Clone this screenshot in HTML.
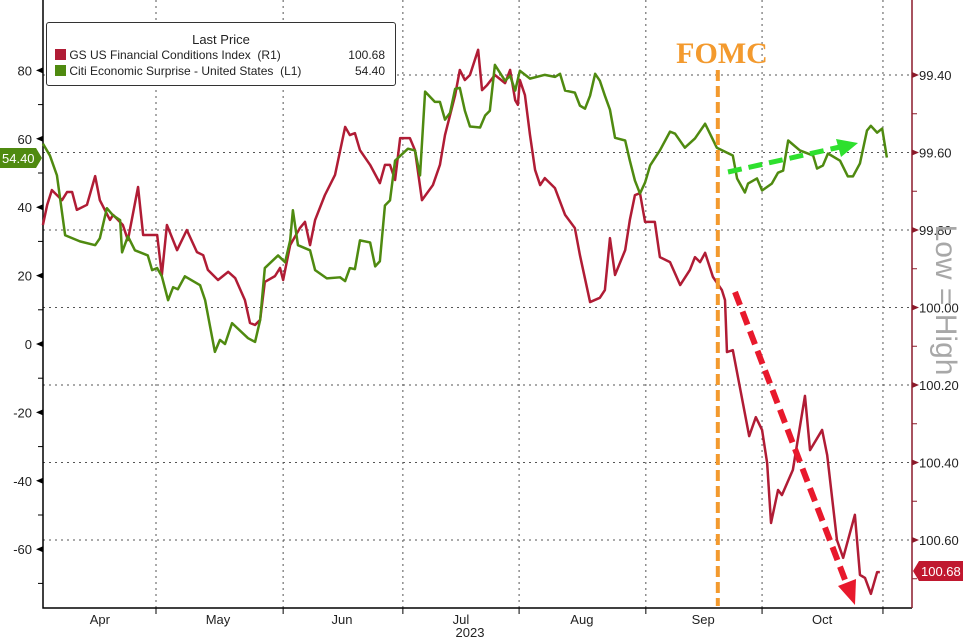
<!DOCTYPE html>
<html><head><meta charset="utf-8">
<style>
body{margin:0;background:#fff;}
svg{display:block;font-family:"Liberation Sans",Arial,sans-serif;}
</style></head>
<body>
<svg id="chart" width="963" height="641" viewBox="0 0 963 641" xmlns="http://www.w3.org/2000/svg">
<rect width="963" height="641" fill="#fff"/>
<g id="grid"></g>
<g id="axes"></g>
<g id="series"></g>
<g id="annot"></g>
</svg>
<script>
// ---- data ----
const greenDays=[1.0,2.8,4.6,6.7,10.5,14.4,15.6,17.4,19.0,20.8,21.3,22.8,24.6,27.9,29.0,30.3,31.5,33.1,34.4,35.6,37.4,41.3,42.6,43.8,45.1,46.4,47.7,49.5,53.6,55.4,56.7,57.9,61.3,63.1,64.4,65.1,66.4,69.5,70.8,73.8,77.2,78.5,79.7,81.0,82.3,84.9,86.2,87.4,88.7,90.0,91.3,94.6,96.4,97.7,99.0,101.5,102.8,104.1,105.4,106.7,107.9,109.2,110.5,113.1,114.4,115.6,116.9,119.5,120.8,122.1,123.3,125.9,129.7,132.3,133.6,134.9,137.4,138.7,140.0,141.3,142.6,143.8,145.1,146.4,147.7,150.3,151.5,152.8,154.1,155.4,156.7,159.2,161.8,163.1,165.6,168.2,170.8,173.8,177.9,179.0,181.0,181.8,184.1,185.4,187.9,189.5,190.8,192.1,195.1,198.5,199.5,201.0,202.3,205.4,207.4,208.7,210.5,212.3,213.3,214.9,216.2,217.4];
const greenValues=[58.6,55.1,49.3,31.8,30.0,28.9,30.9,39.7,37.6,36.2,26.8,31.5,27.4,25.9,21.6,22.2,19.8,12.8,16.6,16.0,19.8,17.2,12.8,5.5,-2.3,1.2,0,6.1,1.7,0.6,7.0,22.2,25.9,23.9,30.3,39.1,28.9,27.4,21.6,19.2,19.5,18.4,22.2,21.9,30.3,29.7,22.7,24.2,40.5,42.0,53.6,57.1,56.6,49.3,73.8,70.8,70.8,65.6,67.6,74.6,74.9,68.2,63.6,63.3,66.8,68.2,81.6,77.0,78.4,74.1,79.9,77.6,78.7,78.1,79.0,74.1,73.5,69.7,68.8,72.6,79.0,77.0,72.6,68.5,60.3,59.5,53.6,47.8,44.0,47.2,52.2,56.6,62.1,61.5,57.4,60.1,64.4,57.4,55.1,48.4,44.3,46.9,48.4,44.9,46.9,50.1,50.7,59.5,56.6,55.1,51.3,52.2,55.7,53.6,49.0,49.0,52.8,62.4,63.8,61.8,63.0,54.5];
const redDays=[1.0,2.1,3.3,5.9,7.2,8.5,9.7,12.3,14.4,15.6,18.2,19.0,21.5,22.8,25.4,26.7,30.3,31.5,32.8,35.4,37.9,40.5,42.1,43.3,45.9,48.5,50.3,52.8,54.1,55.4,56.7,57.9,60.5,61.8,62.6,64.4,66.9,68.2,69.5,70.8,73.3,75.9,78.5,79.7,81.0,82.3,84.9,87.4,88.7,90.0,91.3,92.6,95.1,96.4,98.2,101.0,102.8,104.1,106.7,107.9,109.2,110.5,112.6,113.6,114.9,116.9,119.5,120.8,122.1,122.8,123.3,124.6,125.9,127.2,128.5,129.7,132.3,134.9,137.4,138.7,141.3,143.8,145.1,146.4,147.7,150.3,151.5,152.8,154.1,155.4,157.9,159.2,161.8,164.4,166.9,168.2,169.5,170.8,172.8,175.1,175.9,176.4,177.9,182.1,183.8,185.4,186.7,187.7,189.5,190.5,193.3,196.4,197.7,200.8,202.1,204.6,206.2,209.2,210.5,211.8,213.3,214.9,215.6];
const redValues=[99.787,99.735,99.697,99.723,99.702,99.702,99.748,99.735,99.661,99.723,99.774,99.761,99.787,99.826,99.689,99.813,99.813,99.916,99.787,99.852,99.800,99.857,99.865,99.903,99.929,99.908,99.924,99.981,100.040,100.045,100.032,99.934,99.919,99.898,99.929,99.839,99.795,99.779,99.839,99.774,99.710,99.658,99.534,99.555,99.550,99.594,99.632,99.679,99.632,99.632,99.671,99.563,99.563,99.594,99.723,99.684,99.632,99.555,99.452,99.387,99.413,99.400,99.335,99.439,99.426,99.400,99.421,99.387,99.465,99.477,99.413,99.452,99.555,99.645,99.684,99.666,99.692,99.761,99.795,99.865,99.986,99.975,99.955,99.821,99.916,99.852,99.774,99.710,99.705,99.779,99.779,99.870,99.883,99.942,99.903,99.870,99.883,99.859,99.921,99.955,99.981,100.115,100.110,100.332,100.283,100.316,100.401,100.556,100.471,100.484,100.419,100.228,100.368,100.316,100.381,100.600,100.646,100.535,100.690,100.698,100.739,100.683,100.683];
const monthBoundaries=[30,62.6,93.3,123.1,155.6,185.4,216.4];
const monthLabels=["Apr","May","Jun","Jul","Aug","Sep","Oct"];
const monthLabelDays=[15.6,45.9,77.7,108.2,139.2,170.3,200.8];
const leftTicks=[80,60,40,20,0,-20,-40,-60];
const rightTicks=[99.4,99.6,99.8,100.0,100.2,100.4,100.6];
const lastGreen=54.40, lastRed=100.68, fomcDay=173.8;

// ---- scales ----
const X=d=>39+d*3.9;
const YL=v=>344-v*3.42;
const YR=v=>75+(v-99.4)*387.5;
const NS="http://www.w3.org/2000/svg";
function mk(tag,parent,attrs){const e=document.createElementNS(NS,tag);for(const k in attrs)e.setAttribute(k,attrs[k]);document.getElementById(parent).appendChild(e);return e;}

monthBoundaries.forEach(d=>{
 const l=mk('line','grid',{x1:X(d),x2:X(d),y1:0,y2:608,stroke:'#555','stroke-width':1,'stroke-dasharray':'2,4'});
 
 
 const t=mk('line','axes',{x1:X(d),x2:X(d),y1:608,y2:614,stroke:'#000'});
 
 
});
rightTicks.forEach(v=>{
 const l=mk('line','grid',{x1:43,x2:912,y1:YR(v),y2:YR(v),stroke:'#555','stroke-width':1,'stroke-dasharray':'2,4'});
 
 
 const p=mk('path','axes',{d:`M912 ${YR(v)-3} L919 ${YR(v)} L912 ${YR(v)+3}Z`,fill:'#8b1a2b'});
 
 
 const t=mk('text','axes',{x:919,y:YR(v)+5,'font-size':13,fill:'#222'});
 t.textContent=v.toFixed(2);
 
 
 const m=mk('line','axes',{x1:912,x2:917,y1:YR(v+0.1),y2:YR(v+0.1),stroke:'#8b1a2b'});
 
 
});
leftTicks.forEach(v=>{
 const p=mk('path','axes',{d:`M43 ${YL(v)-3} L36 ${YL(v)} L43 ${YL(v)+3}Z`,fill:'#000'});
 
 
 const t=mk('text','axes',{x:32,y:YL(v)+5,'font-size':13,fill:'#222','text-anchor':'end'});
 t.textContent=v;
 
 
 const m=mk('line','axes',{x1:38,x2:43,y1:YL(v-10),y2:YL(v-10),stroke:'#000'});
 
 
});
monthLabels.forEach((s,i)=>{
 const t=mk('text','axes',{x:X(monthLabelDays[i]),y:624,'font-size':13,fill:'#222','text-anchor':'middle'});
 t.textContent=s;
 
 
});
let yr=mk('text','axes',{x:470,y:637,'font-size':13,fill:'#222','text-anchor':'middle'});yr.textContent='2023';


let ax=mk('path','axes',{d:'M43 0 L43 608 L912 608',fill:'none',stroke:'#000','stroke-width':1.5});


let rax=mk('line','axes',{x1:912,x2:912,y1:0,y2:608,stroke:'#8b1a2b','stroke-width':1.5});



let rp=mk('polyline','series',{points:redDays.map((d,i)=>X(d)+','+YR(redValues[i])).join(' '),fill:'none',stroke:'#b01c35','stroke-width':2.5,'stroke-linejoin':'round'});


let gp=mk('polyline','series',{points:greenDays.map((d,i)=>X(d)+','+YL(greenValues[i])).join(' '),fill:'none',stroke:'#4f8a10','stroke-width':2.5,'stroke-linejoin':'round'});



const fx=X(fomcDay)+1;
let fl=mk('line','annot',{x1:fx,x2:fx,y1:70,y2:606,stroke:'#f39a2e','stroke-width':4,'stroke-dasharray':'11,5'});


let ft=mk('text','annot',{x:722,y:63,'font-size':30,'font-weight':'bold',fill:'#f39a2e','text-anchor':'middle','font-family':'Liberation Serif, serif'});ft.textContent='FOMC';


let ga=mk('line','annot',{x1:728,y1:172,x2:840,y2:147,stroke:'#2ee02e','stroke-width':5,'stroke-dasharray':'14,7'});


let gh=mk('path','annot',{d:'M858 143 L836 139 L841 157Z',fill:'#2ee02e'});


let ra=mk('line','annot',{x1:735,y1:292,x2:847,y2:585,stroke:'#e8192c','stroke-width':6,'stroke-dasharray':'14,7'});


let rh=mk('path','annot',{d:'M855 605 L838 586 L856 579Z',fill:'#e8192c'});



let gt=mk('path','annot',{d:`M0 ${YL(lastGreen)-10} L36 ${YL(lastGreen)-10} L42 ${YL(lastGreen)} L36 ${YL(lastGreen)+10} L0 ${YL(lastGreen)+10}Z`,fill:'#4f8a10'});


let gtt=mk('text','annot',{x:2,y:YL(lastGreen)+5,'font-size':13,fill:'#fff'});gtt.textContent=lastGreen.toFixed(2);


let rt=mk('path','annot',{d:`M913 ${YR(lastRed)} L919 ${YR(lastRed)-10} L963 ${YR(lastRed)-10} L963 ${YR(lastRed)+10} L919 ${YR(lastRed)+10}Z`,fill:'#c0182f'});


let rtt=mk('text','annot',{x:921,y:YR(lastRed)+5,'font-size':13,fill:'#fff'});rtt.textContent=lastRed.toFixed(2);


</script>
<div style="position:absolute;left:46px;top:22px;width:348px;height:62px;border:1px solid #333;border-radius:3px;background:#fff;font-family:'Liberation Sans',Arial,sans-serif;font-size:12px;color:#222;">
 <div style="position:absolute;left:0;right:0;top:9px;text-align:center;font-size:13px;">Last Price</div>
 <div style="position:absolute;left:8px;top:25px;width:330px;">
  <span style="display:inline-block;width:11px;height:11px;background:#b01c35;vertical-align:-1px;"></span> GS US Financial Conditions Index&nbsp;&nbsp;(R1)<span style="position:absolute;right:0;">100.68</span></div>
 <div style="position:absolute;left:8px;top:41px;width:330px;">
  <span style="display:inline-block;width:11px;height:11px;background:#4f8a10;vertical-align:-1px;"></span> Citi Economic Surprise - United States&nbsp;&nbsp;(L1)<span style="position:absolute;right:0;">54.40</span></div>
</div>
<div style="position:absolute;left:945px;top:300px;width:0;height:0;">
 <div style="position:absolute;transform:translate(-50%,-50%) rotate(90deg);white-space:nowrap;font-family:'Liberation Sans',Arial,sans-serif;font-size:30px;color:#a8a8a8;">Low = High</div>
</div>
</body></html>
